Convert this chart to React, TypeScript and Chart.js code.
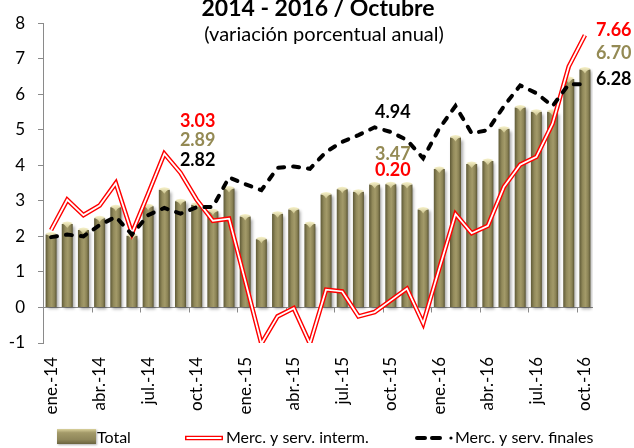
import React, { useEffect, useRef } from "react";
import { Chart, registerables } from "chart.js";

Chart.register(...registerables);

const categories = [
  "ene.-14", "feb.-14", "mar.-14", "abr.-14", "may.-14", "jun.-14", "jul.-14", "ago.-14", "sep.-14", "oct.-14", "nov.-14", "dic.-14",
  "ene.-15", "feb.-15", "mar.-15", "abr.-15", "may.-15", "jun.-15", "jul.-15", "ago.-15", "sep.-15", "oct.-15", "nov.-15", "dic.-15",
  "ene.-16", "feb.-16", "mar.-16", "abr.-16", "may.-16", "jun.-16", "jul.-16", "ago.-16", "sep.-16", "oct.-16",
];

const total = [
  2.05, 2.35, 2.18, 2.51, 2.82, 2.02, 2.85, 3.31, 2.99, 2.89, 2.71, 3.35,
  2.56, 1.92, 2.64, 2.76, 2.35, 3.18, 3.33, 3.26, 3.46, 3.47, 3.46, 2.76,
  3.9, 4.78, 4.04, 4.12, 5.03, 5.63, 5.51, 5.51, 6.43, 6.7,
];

const interm = [
  2.18, 3.03, 2.6, 2.87, 3.5, 2.09, 3.2, 4.33, 3.79, 3.03, 2.44, 2.5,
  0.75, -1.02, -0.25, -0.02, -1.02, 0.5, 0.45, -0.25, -0.13, 0.2, 0.53, -0.45,
  1.1, 2.63, 2.09, 2.3, 3.4, 4.02, 4.24, 5.17, 6.78, 7.66,
];

const finales = [
  1.98, 2.05, 2.0, 2.32, 2.55, 2.05, 2.6, 2.8, 2.64, 2.82, 2.83, 3.66,
  3.47, 3.3, 3.93, 3.97, 3.9, 4.38, 4.66, 4.85, 5.07, 4.94, 4.71, 4.2,
  5.04, 5.67, 4.9, 4.99, 5.67, 6.25, 6.03, 5.67, 6.28, 6.28,
];

const yMin = -1;
const yMax = 8;
const seriesNames = ["Total", "Merc. y serv. interm.", "Merc. y serv. finales"];
const titleText = "2014 - 2016 / Octubre";
const subtitleText = "(variación porcentual anual)";
const calloutIndexes = [9, 21, 33];

const FONT = "Lato, 'Open Sans', sans-serif";
const OLIVE = "#948A54";
const RED = "#FF0000";
const AXIS = "#8a8a8a";
const BAR_PCT = 0.68;

// label layout (pixel placement only)
const calloutLayout = [
  { align: "center", dx: 1, rows: [["interm", 121], ["total", 140], ["finales", 160]] },
  { align: "center", dx: 2, rows: [["finales", 112], ["total", 154], ["interm", 170]] },
  { align: "left", dx: 11, rows: [["interm", 30], ["total", 53], ["finales", 79]] },
];

const seriesMap: Record<string, { data: number[]; color: string }> = {
  total: { data: total, color: OLIVE },
  interm: { data: interm, color: RED },
  finales: { data: finales, color: "#000000" },
};

function barGradient(ctx: CanvasRenderingContext2D, x0: number, x1: number) {
  const g = ctx.createLinearGradient(x0, 0, x1, 0);
  g.addColorStop(0, "#5f5a37");
  g.addColorStop(0.3, "#928a5b");
  g.addColorStop(0.55, "#a39a69");
  g.addColorStop(0.8, "#8a8255");
  g.addColorStop(1, "#5a5534");
  return g;
}

const decorPlugin = {
  id: "decor",
  beforeDatasetsDraw(chart: any) {
    const { ctx, chartArea, scales } = chart;
    const y0 = scales.y.getPixelForValue(0);
    const n = categories.length;
    const w = (chartArea.right - chartArea.left) / n;
    ctx.save();
    ctx.strokeStyle = AXIS;
    ctx.lineWidth = 1;
    ctx.beginPath();
    ctx.moveTo(chartArea.left, Math.round(y0) + 0.5);
    ctx.lineTo(chartArea.right, Math.round(y0) + 0.5);
    for (let k = 0; k < n; k += 3) {
      const x = Math.round(chartArea.left + k * w) + 0.5;
      ctx.moveTo(x, Math.round(y0) + 0.5);
      ctx.lineTo(x, Math.round(y0) + 5.5);
    }
    ctx.stroke();
    ctx.restore();
  },
  beforeDatasetDraw(chart: any, args: any) {
    if (args.index === 0) {
      const ctx = chart.ctx;
      ctx.save();
      ctx.shadowColor = "rgba(0,0,0,0.35)";
      ctx.shadowBlur = 3;
      ctx.shadowOffsetX = 2;
      ctx.shadowOffsetY = 2;
    }
  },
  afterDatasetDraw(chart: any, args: any) {
    if (args.index === 0) {
      const ctx = chart.ctx;
      ctx.restore();
      const meta = chart.getDatasetMeta(0);
      ctx.save();
      meta.data.forEach((bar: any) => {
        const half = bar.width / 2;
        const top = bar.y;
        const g = ctx.createLinearGradient(0, top - 2, 0, top + 4);
        g.addColorStop(0, "#f4efc6");
        g.addColorStop(1, "#c9c08a");
        ctx.fillStyle = g;
        ctx.beginPath();
        ctx.moveTo(bar.x - half, top - 1);
        ctx.quadraticCurveTo(bar.x, top - 4, bar.x + half, top - 1);
        ctx.quadraticCurveTo(bar.x + half * 0.3, top + 1, bar.x, top + 4);
        ctx.quadraticCurveTo(bar.x - half * 0.3, top + 1, bar.x - half, top - 1);
        ctx.closePath();
        ctx.fill();
      });
      ctx.restore();
    }
  },
  afterDraw(chart: any) {
    const { ctx, scales } = chart;
    ctx.save();
    // title
    ctx.fillStyle = "#000";
    ctx.textAlign = "center";
    ctx.textBaseline = "alphabetic";
    ctx.font = `bold 23px ${FONT}`;
    ctx.fillText(titleText, 318, 16);
    ctx.font = `20px ${FONT}`;
    ctx.fillText(subtitleText, 324, 41);

    // callouts
    ctx.font = `bold 18px ${FONT}`;
    ctx.textBaseline = "middle";
    calloutIndexes.forEach((idx, c) => {
      const lay = calloutLayout[c];
      const x = scales.x.getPixelForValue(idx) + lay.dx;
      ctx.textAlign = lay.align as CanvasTextAlign;
      lay.rows.forEach(([key, y]) => {
        const s = seriesMap[key as string];
        ctx.fillStyle = s.color;
        ctx.fillText(s.data[idx].toFixed(2), x, y as number);
      });
    });

    // legend
    const ly = 437;
    ctx.font = `16px ${FONT}`;
    ctx.textAlign = "left";
    ctx.textBaseline = "middle";
    // Total box
    ctx.save();
    ctx.shadowColor = "rgba(0,0,0,0.3)";
    ctx.shadowBlur = 2;
    ctx.shadowOffsetX = 1;
    ctx.shadowOffsetY = 1;
    const vg = ctx.createLinearGradient(0, 429, 0, 444);
    vg.addColorStop(0, "#d9d19c");
    vg.addColorStop(0.25, "#a39a69");
    vg.addColorStop(0.7, "#8f875a");
    vg.addColorStop(1, "#6a643f");
    ctx.fillStyle = vg;
    ctx.fillRect(57, 429, 39, 15);
    ctx.restore();
    ctx.fillStyle = "#000";
    ctx.fillText(seriesNames[0], 97, ly + 1);
    // interm symbol
    ctx.lineCap = "butt";
    ctx.strokeStyle = RED;
    ctx.lineWidth = 4.5;
    ctx.beginPath();
    ctx.moveTo(185, ly + 1);
    ctx.lineTo(223, ly + 1);
    ctx.stroke();
    ctx.strokeStyle = "#fff";
    ctx.lineWidth = 1.8;
    ctx.beginPath();
    ctx.moveTo(186.5, ly + 1);
    ctx.lineTo(221.5, ly + 1);
    ctx.stroke();
    ctx.fillStyle = "#000";
    ctx.fillText(seriesNames[1], 226, ly + 1);
    // finales symbol
    ctx.strokeStyle = "#000";
    ctx.lineWidth = 4;
    ctx.lineCap = "round";
    ctx.beginPath();
    ctx.moveTo(417, ly + 1);
    ctx.lineTo(425, ly + 1);
    ctx.moveTo(432, ly + 1);
    ctx.lineTo(440, ly + 1);
    ctx.stroke();
    ctx.beginPath();
    ctx.arc(451, ly + 1, 1.6, 0, Math.PI * 2);
    ctx.fillStyle = "#000";
    ctx.fill();
    ctx.fillText(seriesNames[2], 455, ly + 1);
    ctx.restore();
  },
};

export default function App() {
  const ref = useRef<HTMLCanvasElement | null>(null);
  useEffect(() => {
    const canvas = ref.current;
    if (!canvas) return;
    const chart = new Chart(canvas, {
      type: "bar",
      data: {
        labels: categories,
        datasets: [
          {
            type: "bar",
            label: seriesNames[0],
            data: total,
            order: 4,
            barPercentage: BAR_PCT,
            categoryPercentage: 1,
            backgroundColor: (c: any) => {
              const chart = c.chart;
              if (!chart.chartArea || c.dataIndex === undefined) return OLIVE;
              const xs = chart.scales.x;
              const x = xs.getPixelForValue(c.dataIndex);
              const half = ((chart.chartArea.right - chart.chartArea.left) / categories.length) * BAR_PCT / 2;
              return barGradient(chart.ctx, x - half, x + half);
            },
            borderWidth: 0,
          } as any,
          {
            type: "line",
            label: seriesNames[1],
            data: interm,
            order: 3,
            borderColor: RED,
            borderWidth: 4.6,
            pointRadius: 0,
            tension: 0,
            fill: false,
          } as any,
          {
            type: "line",
            label: "interm-inner",
            data: interm,
            order: 2,
            borderColor: "#ffffff",
            borderWidth: 1.8,
            pointRadius: 0,
            tension: 0,
            fill: false,
          } as any,
          {
            type: "line",
            label: seriesNames[2],
            data: finales,
            order: 1,
            borderColor: "#000000",
            borderWidth: 4,
            borderDash: [6, 9],
            borderCapStyle: "round",
            pointRadius: 0,
            tension: 0,
            fill: false,
          } as any,
        ],
      },
      options: {
        animation: false,
        responsive: false,
        devicePixelRatio: 1,
        layout: { padding: { top: 16, right: 41, bottom: 30, left: 0 } },
        plugins: {
          legend: { display: false },
          title: { display: false },
          tooltip: { enabled: false },
        },
        scales: {
          x: {
            type: "category",
            offset: true,
            grid: { display: false, drawTicks: false },
            border: { display: false },
            ticks: {
              autoSkip: false,
              minRotation: 90,
              maxRotation: 90,
              padding: 14,
              color: "#000",
              font: { family: FONT, size: 17 },
              callback: (_v: any, i: number) => (i % 3 === 0 ? categories[i] : ""),
            },
            afterFit: (s: any) => {
              s.height = 75;
            },
          },
          y: {
            min: yMin,
            max: yMax,
            ticks: {
              stepSize: 1,
              padding: 13,
              color: "#000",
              font: { family: FONT, size: 17 },
            },
            grid: { display: true, drawOnChartArea: false, drawTicks: true, tickLength: 5, color: AXIS },
            border: { display: true, color: AXIS },
            afterFit: (s: any) => {
              s.width = 43;
            },
          },
        },
      } as any,
      plugins: [decorPlugin],
    });
    return () => chart.destroy();
  }, []);

  return (
    <div style={{ position: "absolute", left: 0, top: 0, width: 634, height: 448, background: "#fff" }}>
      <canvas ref={ref} width={634} height={448} style={{ display: "block", width: 634, height: 448 }} />
    </div>
  );
}
